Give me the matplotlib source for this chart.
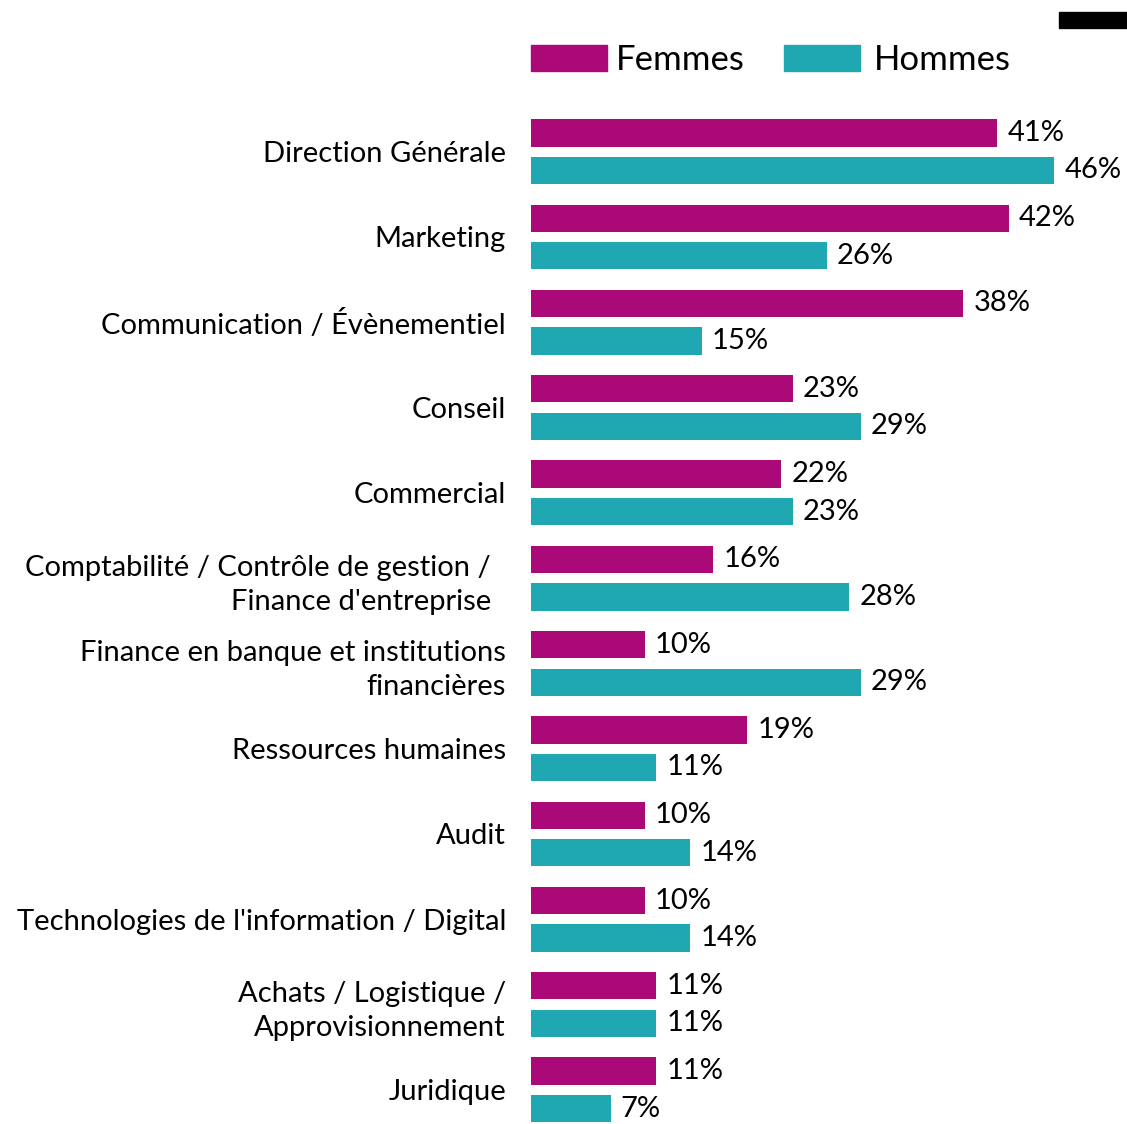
import matplotlib
matplotlib.use("Agg")
import matplotlib.pyplot as plt
from matplotlib.patches import Rectangle
import numpy as np

# data (percent)
categories = [
    "Direction Générale",
    "Marketing",
    "Communication / Évènementiel",
    "Conseil",
    "Commercial",
    "Comptabilité / Contrôle de gestion /  \nFinance d'entreprise  ",
    "Finance en banque et institutions\nfinancières",
    "Ressources humaines",
    "Audit",
    "Technologies de l'information / Digital",
    "Achats / Logistique /\nApprovisionnement",
    "Juridique",
]
femmes = [41, 42, 38, 23, 22, 16, 10, 19, 10, 10, 11, 11]
hommes = [46, 26, 15, 29, 23, 28, 29, 11, 14, 14, 11, 7]

FEM_COLOR = "#AB0977"
HOM_COLOR = "#1FA8B1"
plt.rcParams['font.family'] = ['Lato', 'DejaVu Sans']

W, H = 1127, 1124
fig = plt.figure(figsize=(W / 100, H / 100), dpi=100)

# axes placed in pixel terms of the reference
left_px, top_px = 531, 109
ax = fig.add_axes([left_px / W, 0, (W - left_px) / W, 1 - top_px / H])

y = np.arange(len(categories))
off = 0.22
bh = 0.32
ax.barh(y - off, femmes, height=bh, color=FEM_COLOR)
ax.barh(y + off, hommes, height=bh, color=HOM_COLOR)

for yi, v in zip(y, femmes):
    ax.text(v + 0.9, yi - off, f"{v}%", va="center", ha="left", fontsize=21)
for yi, v in zip(y, hommes):
    ax.text(v + 0.9, yi + off, f"{v}%", va="center", ha="left", fontsize=21)

ax.set_xlim(0, (W - left_px) / 11.37)
ax.set_ylim(11.4, -0.5)
ax.set_yticks(y)
ax.set_yticklabels(categories, fontsize=21, linespacing=1.4)
ax.tick_params(axis="y", length=0, pad=18)
ax.set_xticks([])
for s in ax.spines.values():
    s.set_visible(False)

# legend drawn by hand at the top
fig.add_artist(Rectangle((531 / W, 1 - 71 / H), 76 / W, 26 / H,
                         color=FEM_COLOR, transform=fig.transFigure))
fig.text(616 / W, 1 - 60 / H, "Femmes", fontsize=25, va="center", ha="left")
fig.add_artist(Rectangle((784 / W, 1 - 71 / H), 76 / W, 26 / H,
                         color=HOM_COLOR, transform=fig.transFigure))
fig.text(874 / W, 1 - 60 / H, "Hommes", fontsize=25, va="center", ha="left")

# small black mark in the top right corner
fig.add_artist(Rectangle((1059 / W, 1 - 28 / H), 68 / W, 16 / H,
                         color="black", transform=fig.transFigure))

fig.savefig("out.png", dpi=100)
